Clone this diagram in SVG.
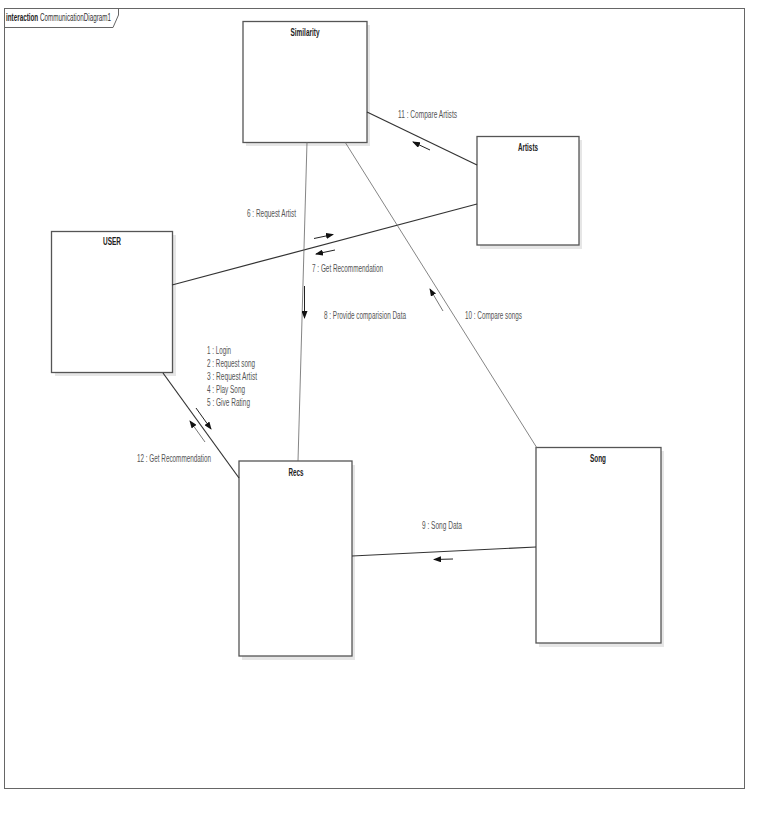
<svg xmlns="http://www.w3.org/2000/svg" width="764" height="822" viewBox="0 0 764 822">
<defs>
<marker id="ah" markerUnits="userSpaceOnUse" markerWidth="8" markerHeight="6" refX="7" refY="3" orient="auto">
<path d="M0,0 L8,3 L0,6 z" fill="#111"/>
</marker>
<style>
.frame{fill:none;stroke:#666;stroke-width:1}
.shadow{fill:#e6e6e6}
.box{fill:#fff;stroke:#555;stroke-width:1.3}
.name{font-family:"Liberation Sans Narrow","Liberation Sans",Arial,sans-serif;font-size:10px;font-weight:bold;fill:#222;text-anchor:middle}
.lbl{font-family:"Liberation Sans Narrow","Liberation Sans",Arial,sans-serif;font-size:10px;fill:#555}
.link{stroke:#333;stroke-width:1.2;fill:none}
.thin{stroke:#666;stroke-width:0.8;fill:none}
.arr{stroke:#222;stroke-width:1;fill:none;marker-end:url(#ah)}
.arrg{stroke:#777;stroke-width:1;fill:none;marker-end:url(#ah)}
</style>
</defs>
<rect width="764" height="822" fill="#fff"/>
<g id="frame">
<rect class="frame" x="4.5" y="8.5" width="740" height="780"/>
<path class="frame" d="M4.5,27.5 H113 L118.5,15 V8.5"/>
<g transform="translate(6,21) scale(0.63,1)">
<text x="0" y="0" class="lbl" style="fill:#222;font-weight:bold;font-family:'Liberation Sans',Arial,sans-serif">interaction</text>
<text x="54" y="0" class="lbl" style="fill:#333;font-family:'Liberation Sans',Arial,sans-serif">CommunicationDiagram1</text>
</g>
</g>
<g id="similarity">
<rect class="shadow" x="246" y="25" width="124" height="121"/>
<rect class="box" x="243" y="21.5" width="124" height="121"/>
<text class="name" x="305" y="36" textLength="29" lengthAdjust="spacingAndGlyphs">Similarity</text>
</g>
<g id="artists">
<rect class="shadow" x="480" y="140" width="102" height="109"/>
<rect class="box" x="477" y="136.5" width="102" height="108.5"/>
<text class="name" x="528" y="151" textLength="20" lengthAdjust="spacingAndGlyphs">Artists</text>
</g>
<g id="user">
<rect class="shadow" x="55" y="235" width="121" height="141"/>
<rect class="box" x="51.5" y="231.5" width="121" height="141"/>
<text class="name" x="112" y="245" textLength="18" lengthAdjust="spacingAndGlyphs">USER</text>
</g>
<g id="recs">
<rect class="shadow" x="242" y="465" width="113" height="195"/>
<rect class="box" x="239" y="461" width="113" height="195"/>
<text class="name" x="296" y="476" textLength="15" lengthAdjust="spacingAndGlyphs">Recs</text>
</g>
<g id="song">
<rect class="shadow" x="539" y="451" width="125" height="196"/>
<rect class="box" x="536" y="447.5" width="125" height="195.5"/>
<text class="name" x="598" y="462" textLength="16" lengthAdjust="spacingAndGlyphs">Song</text>
</g>
<g id="connectors">
<line class="link" x1="367" y1="112" x2="477" y2="165"/>
<line class="link" x1="172" y1="285" x2="477" y2="204"/>
<line class="thin" x1="345" y1="142" x2="537" y2="448"/>
<line class="thin" x1="307" y1="142" x2="298" y2="461"/>
<line class="link" x1="163" y1="373" x2="239" y2="478"/>
<line class="link" x1="352" y1="556" x2="536" y2="547"/>
<line class="arr" x1="430" y1="150" x2="413" y2="142"/>
<line class="arr" x1="314" y1="238.5" x2="333" y2="234.5"/>
<line class="arr" x1="335" y1="250" x2="316" y2="254"/>
<line class="arr" x1="304.5" y1="286" x2="304.5" y2="318"/>
<line class="arrg" x1="443" y1="311" x2="430" y2="289"/>
<line class="arr" x1="196" y1="408" x2="211" y2="429"/>
<line class="arrg" x1="205" y1="442" x2="190" y2="421"/>
<line class="arr" x1="453" y1="559" x2="434" y2="559.5"/>
<text class="lbl" x="398" y="118" textLength="59" lengthAdjust="spacingAndGlyphs">11 : Compare Artists</text>
<text class="lbl" x="247" y="217" textLength="49" lengthAdjust="spacingAndGlyphs">6 : Request Artist</text>
<text class="lbl" x="312" y="272" textLength="71" lengthAdjust="spacingAndGlyphs">7 : Get Recommendation</text>
<text class="lbl" x="324" y="319" textLength="82" lengthAdjust="spacingAndGlyphs">8 : Provide comparision Data</text>
<text class="lbl" x="465" y="319" textLength="57" lengthAdjust="spacingAndGlyphs">10 : Compare songs</text>
<text class="lbl" x="207" y="354" textLength="24" lengthAdjust="spacingAndGlyphs">1 : Login</text>
<text class="lbl" x="207" y="367" textLength="48" lengthAdjust="spacingAndGlyphs">2 : Request song</text>
<text class="lbl" x="207" y="380" textLength="50" lengthAdjust="spacingAndGlyphs">3 : Request Artist</text>
<text class="lbl" x="207" y="393" textLength="38" lengthAdjust="spacingAndGlyphs">4 : Play Song</text>
<text class="lbl" x="207" y="406" textLength="43" lengthAdjust="spacingAndGlyphs">5 : Give Rating</text>
<text class="lbl" x="137" y="462" textLength="74" lengthAdjust="spacingAndGlyphs">12 : Get Recommendation</text>
<text class="lbl" x="422" y="529" textLength="40" lengthAdjust="spacingAndGlyphs">9 : Song Data</text>
</g>
</svg>
